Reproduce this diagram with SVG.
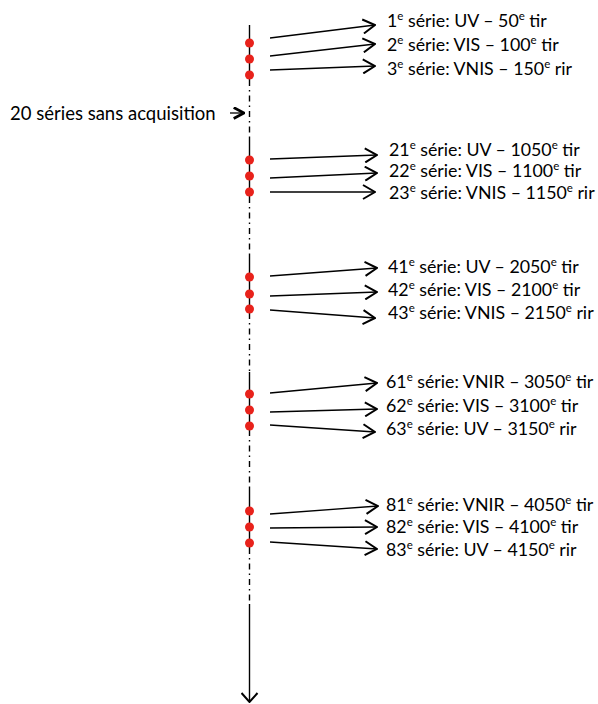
<svg xmlns="http://www.w3.org/2000/svg" width="598" height="704" viewBox="0 0 598 704">
<defs>
<style>
text{font-family:Lato,"Open Sans","Liberation Sans",sans-serif;font-size:17.8px;fill:#000}
.sup{font-size:11.5px}
.conn{stroke:#000;stroke-width:1.3;fill:none}
.ax{stroke:#000;stroke-width:1.4;fill:none}
.dd{stroke:#000;stroke-width:1.4;fill:none;stroke-dasharray:6 4 1.5 4}
.dot{fill:#e8221b}
</style>
<marker id="arr" viewBox="0 0 14 16" markerWidth="14" markerHeight="16" refX="13" refY="8" orient="auto" markerUnits="userSpaceOnUse">
<path d="M1,1 L13,8 L1,15" fill="none" stroke="#000" stroke-width="2"/>
</marker>
<marker id="arrs" viewBox="0 0 12 12" markerWidth="13" markerHeight="13" refX="11" refY="6" orient="auto" markerUnits="userSpaceOnUse">
<path d="M1.5,1 L11,6 L1.5,11" fill="none" stroke="#000" stroke-width="2.6"/>
</marker>
<marker id="arrb" viewBox="0 0 18 12" markerWidth="18" markerHeight="12" refX="9" refY="11" orient="0" markerUnits="userSpaceOnUse">
<path d="M1,2 L9,11 L17,2" fill="none" stroke="#000" stroke-width="2"/>
</marker>
</defs>
<g id="axis">
<line class="ax" x1="249.5" y1="25" x2="249.5" y2="80"/>
<line class="dd" x1="249.5" y1="80" x2="249.5" y2="137"/>
<line class="ax" x1="249.5" y1="137" x2="249.5" y2="197"/>
<line class="dd" x1="249.5" y1="197" x2="249.5" y2="254"/>
<line class="ax" x1="249.5" y1="254" x2="249.5" y2="313"/>
<line class="dd" x1="249.5" y1="313" x2="249.5" y2="372"/>
<line class="ax" x1="249.5" y1="372" x2="249.5" y2="430"/>
<line class="dd" x1="249.5" y1="430" x2="249.5" y2="488"/>
<line class="ax" x1="249.5" y1="488" x2="249.5" y2="548"/>
<line class="dd" x1="249.5" y1="548" x2="249.5" y2="604"/>
<line class="ax" x1="249.5" y1="604" x2="249.5" y2="702" marker-end="url(#arrb)"/>
</g>
<g id="dots">
<circle class="dot" cx="249.5" cy="43" r="4.5"/>
<circle class="dot" cx="249.5" cy="59" r="4.5"/>
<circle class="dot" cx="249.5" cy="75" r="4.5"/>
<circle class="dot" cx="249.5" cy="160" r="4.5"/>
<circle class="dot" cx="249.5" cy="176" r="4.5"/>
<circle class="dot" cx="249.5" cy="192" r="4.5"/>
<circle class="dot" cx="249.5" cy="277" r="4.5"/>
<circle class="dot" cx="249.5" cy="294" r="4.5"/>
<circle class="dot" cx="249.5" cy="309" r="4.5"/>
<circle class="dot" cx="249.5" cy="394" r="4.5"/>
<circle class="dot" cx="249.5" cy="410" r="4.5"/>
<circle class="dot" cx="249.5" cy="426" r="4.5"/>
<circle class="dot" cx="249.5" cy="511" r="4.5"/>
<circle class="dot" cx="249.5" cy="527" r="4.5"/>
<circle class="dot" cx="249.5" cy="543" r="4.5"/>
</g>
<g id="connectors">
<line class="conn" x1="270" y1="38" x2="375" y2="25" marker-end="url(#arr)"/>
<line class="conn" x1="270" y1="56" x2="375" y2="44" marker-end="url(#arr)"/>
<line class="conn" x1="270" y1="70" x2="375" y2="66" marker-end="url(#arr)"/>
<line class="conn" x1="270" y1="159" x2="377" y2="155" marker-end="url(#arr)"/>
<line class="conn" x1="270" y1="178" x2="377" y2="173" marker-end="url(#arr)"/>
<line class="conn" x1="270" y1="192" x2="375" y2="192" marker-end="url(#arr)"/>
<line class="conn" x1="270" y1="276" x2="377" y2="268" marker-end="url(#arr)"/>
<line class="conn" x1="270" y1="296" x2="377" y2="292" marker-end="url(#arr)"/>
<line class="conn" x1="270" y1="310" x2="375" y2="318" marker-end="url(#arr)"/>
<line class="conn" x1="270" y1="393" x2="377" y2="383" marker-end="url(#arr)"/>
<line class="conn" x1="270" y1="412" x2="377" y2="409" marker-end="url(#arr)"/>
<line class="conn" x1="270" y1="425" x2="375" y2="432" marker-end="url(#arr)"/>
<line class="conn" x1="270" y1="514" x2="378" y2="506" marker-end="url(#arr)"/>
<line class="conn" x1="270" y1="528" x2="377" y2="527" marker-end="url(#arr)"/>
<line class="conn" x1="270" y1="542" x2="377" y2="549" marker-end="url(#arr)"/>
<line class="conn" x1="230" y1="113" x2="244" y2="113" marker-end="url(#arrs)"/>
</g>
<g id="label-skip"><text x="10" y="120" style="font-size:18.5px">20 séries sans acquisition</text></g>
<g id="g1">
<text x="387" y="27">1<tspan class="sup" dy="-7">e</tspan><tspan dy="7"> série: UV – 50</tspan><tspan class="sup" dy="-7">e</tspan><tspan dy="7"> tir</tspan></text>
<text x="387" y="51">2<tspan class="sup" dy="-7">e</tspan><tspan dy="7"> série: VIS – 100</tspan><tspan class="sup" dy="-7">e</tspan><tspan dy="7"> tir</tspan></text>
<text x="387" y="75">3<tspan class="sup" dy="-7">e</tspan><tspan dy="7"> série: VNIS – 150</tspan><tspan class="sup" dy="-7">e</tspan><tspan dy="7"> rir</tspan></text>
</g>
<g id="g2">
<text x="389" y="156">21<tspan class="sup" dy="-7">e</tspan><tspan dy="7"> série: UV – 1050</tspan><tspan class="sup" dy="-7">e</tspan><tspan dy="7"> tir</tspan></text>
<text x="389" y="177">22<tspan class="sup" dy="-7">e</tspan><tspan dy="7"> série: VIS – 1100</tspan><tspan class="sup" dy="-7">e</tspan><tspan dy="7"> tir</tspan></text>
<text x="389" y="199">23<tspan class="sup" dy="-7">e</tspan><tspan dy="7"> série: VNIS – 1150</tspan><tspan class="sup" dy="-7">e</tspan><tspan dy="7"> rir</tspan></text>
</g>
<g id="g3">
<text x="388" y="273">41<tspan class="sup" dy="-7">e</tspan><tspan dy="7"> série: UV – 2050</tspan><tspan class="sup" dy="-7">e</tspan><tspan dy="7"> tir</tspan></text>
<text x="388" y="296">42<tspan class="sup" dy="-7">e</tspan><tspan dy="7"> série: VIS – 2100</tspan><tspan class="sup" dy="-7">e</tspan><tspan dy="7"> tir</tspan></text>
<text x="388" y="319">43<tspan class="sup" dy="-7">e</tspan><tspan dy="7"> série: VNIS – 2150</tspan><tspan class="sup" dy="-7">e</tspan><tspan dy="7"> rir</tspan></text>
</g>
<g id="g4">
<text x="386" y="388">61<tspan class="sup" dy="-7">e</tspan><tspan dy="7"> série: VNIR – 3050</tspan><tspan class="sup" dy="-7">e</tspan><tspan dy="7"> tir</tspan></text>
<text x="386" y="412">62<tspan class="sup" dy="-7">e</tspan><tspan dy="7"> série: VIS – 3100</tspan><tspan class="sup" dy="-7">e</tspan><tspan dy="7"> tir</tspan></text>
<text x="386" y="435">63<tspan class="sup" dy="-7">e</tspan><tspan dy="7"> série: UV – 3150</tspan><tspan class="sup" dy="-7">e</tspan><tspan dy="7"> rir</tspan></text>
</g>
<g id="g5">
<text x="386" y="511">81<tspan class="sup" dy="-7">e</tspan><tspan dy="7"> série: VNIR – 4050</tspan><tspan class="sup" dy="-7">e</tspan><tspan dy="7"> tir</tspan></text>
<text x="386" y="533">82<tspan class="sup" dy="-7">e</tspan><tspan dy="7"> série: VIS – 4100</tspan><tspan class="sup" dy="-7">e</tspan><tspan dy="7"> tir</tspan></text>
<text x="386" y="556">83<tspan class="sup" dy="-7">e</tspan><tspan dy="7"> série: UV – 4150</tspan><tspan class="sup" dy="-7">e</tspan><tspan dy="7"> rir</tspan></text>
</g>
</svg>
